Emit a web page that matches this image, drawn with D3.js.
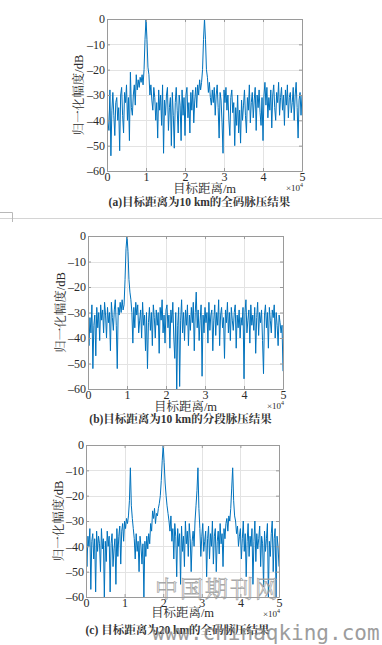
<!DOCTYPE html>
<html>
<head>
<meta charset="utf-8">
<script src="https://cdn.jsdelivr.net/npm/d3@7"></script>
<style>
body { margin: 0; background: #fff; }
</style>
</head>
<body>
<div id="canvas"></div>
<script>
// ----------------------------------------------------------
// DATA -----------------------------------------------------
// ----------------------------------------------------------
// target distance, unit 1e4 m, one sample every 0.025
var sample_step = 0.025;
var tick_x = [0, 1, 2, 3, 4, 5];
var tick_y = [0, -10, -20, -30, -40, -50, -60];

// (a) full code compression, target at 10 km
var amp_a = [
-30, -41, -44, -28, -54, -36, -29, -38, -46, -33,
-31, -40, -35, -52, -30, -27, -38, -45, -29, -33,
-26, -40, -31, -48, -21, -35, -38, -30, -26, -34,
-22, -28, -24, -27, -23, -25, -22, -26, -20, -8,
0, -8, -19, -22, -30, -26, -32, -36, -27, -31,
-40, -33, -47, -28, -36, -30, -42, -26, -53, -32,
-38, -30, -27, -44, -35, -31, -50, -29, -38, -51,
-33, -27, -36, -45, -30, -34, -48, -28, -38, -31,
-46, -30, -27, -39, -33, -45, -29, -36, -28, -41,
-32, -27, -35, -26, -30, -24, -28, -25, -20, -8,
0, -8, -20, -23, -29, -25, -31, -34, -28, -33,
-27, -38, -30, -26, -35, -47, -29, -32, -41, -53,
-28, -33, -27, -36, -30, -40, -46, -31, -28, -37,
-33, -50, -35, -42, -30, -45, -36, -49, -32, -40,
-34, -28, -38, -45, -31, -36, -26, -41, -33, -29,
-39, -32, -27, -44, -30, -35, -28, -37, -42, -31,
-48, -30, -25, -34, -27, -39, -31, -36, -28, -43,
-30, -26, -35, -40, -29, -33, -25, -38, -31, -27,
-36, -30, -42, -28, -34, -26, -39, -31, -29, -37,
-33, -27, -40, -30, -25, -35, -47, -32, -29, -38,
-30
];

// (b) segmented compression, target at 10 km
var amp_b = [
-29, -43, -32, -38, -27, -52, -35, -31, -47, -28,
-36, -30, -41, -27, -33, -29, -38, -26, -31, -40,
-28, -34, -30, -45, -26, -32, -37, -29, -25, -35,
-52, -28, -31, -26, -30, -25, -29, -27, -17, -5,
0, -6, -17, -22, -25, -30, -42, -28, -36, -26,
-31, -27, -38, -33, -29, -40, -26, -35, -31, -45,
-30, -52, -34, -28, -37, -30, -43, -27, -32, -40,
-29, -35, -30, -46, -28, -33, -25, -38, -31, -42,
-29, -27, -36, -31, -44, -29, -34, -26, -40, -48,
-30, -62, -35, -28, -59, -33, -25, -38, -30, -41,
-29, -35, -27, -43, -31, -37, -28, -34, -26, -45,
-30, -22, -36, -29, -41, -33, -27, -55, -31, -38,
-28, -34, -30, -42, -26, -37, -31, -29, -45, -33,
-27, -39, -30, -35, -25, -43, -31, -28, -36, -32,
-48, -29, -34, -26, -38, -30, -41, -28, -33, -37,
-30, -27, -44, -31, -36, -29, -40, -32, -35, -28,
-56, -30, -25, -38, -33, -29, -42, -27, -35, -31,
-37, -28, -46, -32, -26, -39, -30, -34, -29, -41,
-54, -31, -27, -36, -30, -44, -28, -33, -38, -29,
-32, -27, -40, -30, -35, -43, -31, -34, -38, -35,
-53
];

// (c) full code compression, target at 20 km
var amp_c = [
-34, -48, -36, -40, -33, -57, -38, -35, -45, -37,
-58, -34, -42, -36, -39, -50, -33, -41, -37, -60,
-38, -46, -34, -40, -36, -58, -39, -35, -48, -41,
-37, -55, -33, -44, -36, -32, -47, -34, -31, -38,
-30, -33, -29, -31, -28, -22, -9, -24, -29, -33,
-37, -45, -35, -42, -38, -50, -36, -40, -47, -39,
-60, -38, -44, -36, -41, -35, -39, -31, -34, -26,
-29, -25, -31, -27, -28, -25, -23, -20, -14, -6,
0, -7, -15, -20, -24, -27, -30, -34, -28, -38,
-33, -45, -31, -36, -52, -33, -40, -35, -55, -32,
-42, -36, -48, -30, -39, -34, -44, -31, -37, -50,
-38, -34, -40, -30, -24, -18, -9, -25, -33, -44,
-36, -31, -42, -38, -34, -52, -37, -32, -45, -35,
-40, -30, -47, -36, -33, -50, -38, -34, -43, -31,
-39, -35, -48, -33, -37, -31, -29, -34, -28, -30,
-25, -17, -9, -22, -28, -30, -35, -32, -40, -36,
-33, -45, -37, -30, -42, -35, -52, -38, -31, -44,
-36, -40, -33, -55, -38, -30, -46, -35, -41, -37,
-32, -48, -36, -39, -56, -34, -42, -37, -31, -60,
-38, -44, -35, -30, -50, -37, -33, -60, -36, -40,
-48
];

var captions = [
"(a)目标距离为10 km的全码脉压结果",
"(b)目标距离为10 km的分段脉压结果",
"(c) 目标距离为20 km的全码脉压结果"
];

// ----------------------------------------------------------
// LAYOUT ---------------------------------------------------
// ----------------------------------------------------------
var layout = {
width: 382,
height: 645,
color_line: "#0072BD",
color_box: "#9a9a9a",
color_grid: "#e3e3e3",
color_text: "#2a2a2a",
font: "'Liberation Serif', 'Noto Serif CJK SC', 'Noto Sans CJK SC', serif"
};
// plot frames of the three panels
var frames = [
{ left: 107, right: 302, top: 19, bottom: 171, ylab: 79, xlab: 193, cap: 206 },
{ left: 88, right: 283, top: 236, bottom: 389, ylab: 61, xlab: 411, cap: 423 },
{ left: 86, right: 279, top: 445, bottom: 597, ylab: 59, xlab: 617, cap: 634 }
];

var svg = d3.select("#canvas").append("svg")
.attr("width", layout.width)
.attr("height", layout.height)
.style("background-color", "#fff")
.style("font-family", layout.font);

// page separator
svg.append("line")
.attr("x1", 0).attr("x2", layout.width)
.attr("y1", 218.5).attr("y2", 218.5)
.attr("stroke", "#d4d4d4");
svg.append("path")
.attr("d", "M0,212.5H12.5V222")
.attr("fill", "none")
.attr("stroke", "#b8b8b8");

// ----------------------------------------------------------
// GFX ------------------------------------------------------
// ----------------------------------------------------------
[amp_a, amp_b, amp_c].forEach(function(series, k) {
var f = frames[k];

var xScale = d3.scaleLinear().domain([0, 5]).range([f.left, f.right]);
var yScale = d3.scaleLinear().domain([-60, 0]).range([f.bottom, f.top]);

var g = svg.append("g").attr("class", "panel_" + k);

// grid
g.append("g").selectAll("line")
.data(tick_x.slice(1, -1)).enter().append("line")
.attr("x1", function(d) { return Math.round(xScale(d)) + 0.5; })
.attr("x2", function(d) { return Math.round(xScale(d)) + 0.5; })
.attr("y1", f.top).attr("y2", f.bottom)
.attr("stroke", layout.color_grid);
g.append("g").selectAll("line")
.data(tick_y.slice(1, -1)).enter().append("line")
.attr("y1", function(d) { return Math.round(yScale(d)) + 0.5; })
.attr("y2", function(d) { return Math.round(yScale(d)) + 0.5; })
.attr("x1", f.left).attr("x2", f.right)
.attr("stroke", layout.color_grid);

// clip
g.append("clipPath").attr("id", "clip_" + k)
.append("rect")
.attr("x", f.left).attr("y", f.top)
.attr("width", f.right - f.left).attr("height", f.bottom - f.top);

// line
var line = d3.line()
.x(function(d, i) { return xScale(i * sample_step); })
.y(function(d) { return yScale(d); });
g.append("path")
.datum(series)
.attr("clip-path", "url(#clip_" + k + ")")
.attr("d", line)
.attr("fill", "none")
.attr("stroke", layout.color_line)
.attr("stroke-width", 1)
.attr("stroke-linejoin", "round");

// axes, MATLAB-like box with inner ticks
var axB = g.append("g").attr("transform", "translate(0," + f.bottom + ")")
.call(d3.axisBottom(xScale).tickValues(tick_x).tickFormat(d3.format("d"))
.tickSizeInner(-3).tickSizeOuter(0).tickPadding(1));
var axT = g.append("g").attr("transform", "translate(0," + f.top + ")")
.call(d3.axisTop(xScale).tickValues(tick_x).tickSizeInner(-3).tickSizeOuter(0).tickFormat(""));
var axL = g.append("g").attr("transform", "translate(" + f.left + ",0)")
.call(d3.axisLeft(yScale).tickValues(tick_y).tickFormat(d3.format("d"))
.tickSizeInner(-3).tickSizeOuter(0).tickPadding(2));
var axR = g.append("g").attr("transform", "translate(" + f.right + ",0)")
.call(d3.axisRight(yScale).tickValues(tick_y).tickSizeInner(-3).tickSizeOuter(0).tickFormat(""));
[axB, axT, axL, axR].forEach(function(a) {
a.select(".domain").attr("stroke", layout.color_box);
a.selectAll(".tick line").attr("stroke", layout.color_box);
a.selectAll("text")
.style("font-family", layout.font)
.style("font-size", "12px")
.attr("fill", layout.color_text);
});
axL.selectAll("text").text(function(d) { return d < 0 ? "\u2013" + (-d) : d; });

// ×10^4
var mult = g.append("text")
.attr("x", f.right + 1)
.attr("y", f.bottom + 20)
.attr("text-anchor", "end")
.style("font-size", "9px")
.attr("fill", layout.color_text);
mult.append("tspan").text("\u00d710");
mult.append("tspan").attr("dy", -4).style("font-size", "6px").text("4");

// axis titles
g.append("text")
.attr("x", (f.left + f.right) / 2)
.attr("y", f.xlab)
.attr("text-anchor", "middle")
.style("font-size", "12.5px")
.attr("fill", layout.color_text)
.text("目标距离/m");
g.append("text")
.attr("transform", "translate(" + f.ylab + "," + ((f.top + f.bottom) / 2) + ") rotate(-90)")
.attr("text-anchor", "middle")
.attr("dy", "0.35em")
.style("font-size", "12.5px")
.attr("fill", layout.color_text)
.text("归一化幅度/dB");

// caption
g.append("text")
.attr("x", (f.left + f.right) / 2 - 5)
.attr("y", f.cap)
.attr("text-anchor", "middle")
.style("font-size", "11.5px")
.style("font-weight", "bold")
.attr("fill", "#333")
.text(captions[k]);
});

// ----------------------------------------------------------
// TEXT -----------------------------------------------------
// ----------------------------------------------------------
// watermark
svg.append("text")
.attr("x", 155)
.attr("y", 597)
.style("font-size", "23px")
.style("letter-spacing", "2px")
.attr("fill", "none")
.attr("stroke", "#9a9a9a")
.attr("stroke-width", 0.8)
.attr("opacity", 0.85)
.text("中国期刊网");
svg.append("text")
.attr("x", 152)
.attr("y", 640)
.style("font-family", "'DejaVu Sans Mono', monospace")
.style("font-size", "21px")
.attr("fill", "#8c8c8c")
.attr("opacity", 0.85)
.text("www.chinaqking.com");
</script>
</body>
</html>
